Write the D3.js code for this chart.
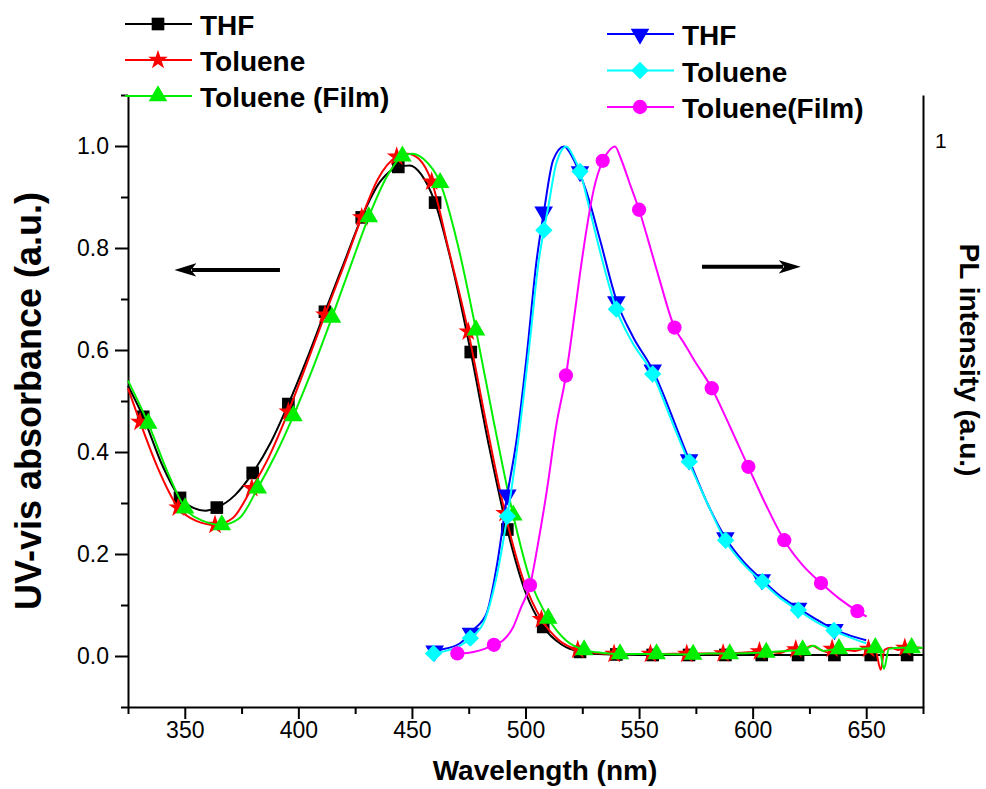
<!DOCTYPE html>
<html>
<head>
<meta charset="utf-8">
<style>
body { margin: 0; background: #fff; }
svg { display: block; font-family: "Liberation Sans", Arial, sans-serif; }
</style>
</head>
<body>
<svg width="986" height="789"></svg>
<script src="https://cdn.jsdelivr.net/npm/d3@7"></script>
<script>
// absorption, THF (black squares)
var absThfLine = [[325,0.53],[331.7,0.469],[340,0.375],[347.9,0.31],[354,0.29],[359,0.285],[364.1,0.291],[372,0.315],[379.9,0.359],[388,0.42],[395.6,0.494],[404,0.585],[411.7,0.675],[420,0.77],[427.9,0.86],[436,0.93],[444,0.959],[449,0.962],[454,0.945],[460.2,0.889],[468,0.76],[475.9,0.596],[484,0.41],[492,0.248],[500,0.125],[507.8,0.057],[516,0.022],[524,0.008],[532,0.004],[540,0.003],[560,0.002],[600,0.002],[640,0.002],[675,0.002]];
var absThfMarks = [[331.7,0.469],[347.9,0.31],[364.1,0.291],[379.9,0.359],[395.6,0.494],[411.7,0.675],[427.9,0.86],[444,0.959],[460.2,0.889],[475.9,0.596],[492,0.248],[507.8,0.057],[524,0.008],[540,0.003],[556,0.002],[572,0.002],[588,0.002],[604,0.002],[620,0.002],[636,0.002],[652,0.002],[668,0.002]];

// absorption, toluene (red stars)
var absTolLine = [[325,0.525],[330.3,0.459],[338,0.37],[347.1,0.291],[355,0.265],[363.3,0.257],[371,0.27],[379.5,0.329],[387,0.39],[395.6,0.479],[403,0.565],[411.7,0.669],[420,0.765],[427.9,0.86],[435,0.935],[443.3,0.979],[448,0.985],[453,0.975],[458.7,0.93],[466,0.8],[474.8,0.636],[483,0.45],[491,0.28],[499,0.15],[507,0.072],[515,0.03],[523,0.012],[531,0.006],[539,0.004],[557,0.004],[573,0.005],[589,0.005],[600,0.008],[605,0.01],[612,0.006],[618,0.016],[621,0.01],[626,0.02],[630,0.012],[634,0.006],[637,0.014],[641,0.012],[645,0.01],[650,0.015],[654,0.012],[656.4,-0.027],[658,0.012],[661,0.016],[664,0.012],[668,0.018],[675,0.015]];
var absTolMarks = [[330.3,0.459],[347.1,0.291],[363.3,0.257],[379.5,0.329],[395.6,0.479],[411.7,0.669],[427.9,0.86],[443.3,0.979],[458.7,0.93],[474.8,0.636],[491,0.28],[507,0.072],[523,0.012],[539,0.004],[555,0.004],[571,0.004],[587,0.005],[603,0.009],[619,0.013],[635,0.014],[651,0.014],[667,0.016]];

// absorption, toluene film (green triangles)
var absFilmLine = [[325,0.54],[333.9,0.456],[342,0.365],[350.1,0.29],[358,0.265],[366.3,0.257],[374,0.27],[382.1,0.329],[390,0.395],[397.8,0.471],[406,0.56],[414.8,0.664],[423,0.765],[431,0.861],[439,0.94],[445.8,0.98],[450,0.985],[455,0.975],[462.4,0.928],[470,0.81],[478.2,0.639],[486,0.46],[494.6,0.276],[502,0.15],[510,0.074],[518,0.03],[525.8,0.012],[534,0.006],[541.6,0.004],[557.7,0.004],[573.8,0.003],[580,0.005],[589.9,0.005],[606,0.007],[615,0.01],[622,0.012],[627,0.02],[631,0.01],[636,0.013],[645,0.014],[652,0.015],[656,0.01],[657.8,-0.025],[660,0.014],[665,0.016],[675,0.016]];
var absFilmMarks = [[333.9,0.456],[350.1,0.29],[366.3,0.257],[382.1,0.329],[397.8,0.471],[414.8,0.664],[431,0.861],[445.8,0.98],[462.4,0.928],[478.2,0.639],[494.6,0.276],[510,0.074],[525.8,0.012],[541.6,0.004],[557.7,0.004],[573.8,0.003],[589.9,0.004],[606,0.007],[622,0.012],[638,0.014],[654,0.016],[670,0.016]];

// PL, THF (blue down triangles)
var plThfLine = [[457,0.008],[462.4,0.012],[471.2,0.025],[477,0.051],[482.9,0.084],[487.3,0.175],[492,0.316],[496.1,0.424],[500.5,0.587],[504.9,0.776],[508.1,0.871],[512.2,0.973],[517,0.999],[521,0.975],[524,0.945],[527,0.908],[532.8,0.816],[540.2,0.695],[547.3,0.626],[556,0.561],[568,0.43],[572,0.385],[580,0.3],[588,0.232],[596,0.185],[604,0.15],[612,0.118],[620,0.094],[628,0.072],[636,0.052],[643,0.04],[650,0.031]];
var plThfMarks = [[460,0.01],[476,0.045],[492,0.316],[508,0.871],[524,0.95],[540,0.695],[556,0.561],[572,0.385],[588,0.232],[604,0.15],[620,0.094],[636,0.052]];

// PL, toluene (cyan diamonds)
var plTolLine = [[459,0.005],[465,0.01],[471,0.02],[475.7,0.035],[482,0.07],[487,0.15],[492,0.274],[497,0.43],[501.5,0.6],[506,0.78],[508.1,0.835],[510,0.88],[513.5,0.965],[518,0.999],[521,0.98],[524,0.95],[528,0.88],[533,0.79],[540,0.68],[547,0.615],[556,0.553],[564,0.465],[572,0.379],[580,0.3],[588,0.226],[596,0.18],[604,0.146],[612,0.114],[620,0.09],[628,0.067],[636,0.049],[643,0.036],[650,0.025]];
var plTolMarks = [[459.5,0.005],[475.7,0.035],[492,0.274],[508.1,0.835],[524,0.95],[540,0.68],[556,0.553],[572.1,0.381],[588.1,0.227],[604.3,0.146],[620.1,0.09],[635.8,0.05]];

// PL, toluene film (magenta circles)
var plFilmLine = [[467.5,0.004],[477,0.008],[482,0.014],[486.1,0.022],[490.2,0.031],[494.6,0.057],[498,0.095],[502,0.139],[505.5,0.22],[509.2,0.319],[513.7,0.456],[517.8,0.55],[521,0.65],[524,0.75],[527,0.84],[530,0.914],[534,0.971],[537,0.992],[539.4,0.999],[542,0.975],[546,0.925],[550,0.875],[555,0.8],[559.2,0.735],[565.6,0.644],[570,0.612],[574,0.582],[582,0.525],[590,0.45],[598.1,0.371],[606,0.295],[613.9,0.227],[622,0.178],[630.1,0.143],[638,0.113],[646.1,0.088],[650.2,0.077]];
var plFilmMarks = [[470,0.005],[486.1,0.022],[502,0.139],[517.8,0.55],[534,0.971],[550,0.875],[565.6,0.644],[582,0.525],[598.1,0.371],[613.9,0.227],[630.1,0.143],[646.1,0.088]];

var xMajor = [350, 400, 450, 500, 550, 600, 650],
    xMinor = [325, 375, 425, 475, 525, 575, 625, 675],
    yMajor = [0, 0.2, 0.4, 0.6, 0.8, 1.0],
    yMinor = [-0.1, 0.1, 0.3, 0.5, 0.7, 0.9, 1.1];

// arrows: [from wavelength, to wavelength, level]
var arrowLeft = [391.9, 345.7, 0.757],
    arrowRight = [577.7, 620.9, 0.763];

var absSeries = [
  {name: "THF", line: absThfLine, marks: absThfMarks, color: "#000000", symbol: d3.symbolSquare, size: 160, rotate: 0},
  {name: "Toluene", line: absTolLine, marks: absTolMarks, color: "#ff0000", symbol: d3.symbolStar, size: 120, rotate: 0},
  {name: "Toluene (Film)", line: absFilmLine, marks: absFilmMarks, color: "#00ee00", symbol: d3.symbolTriangle, size: 150, rotate: 0}
];
var plSeries = [
  {name: "THF", line: plThfLine, marks: plThfMarks, color: "#0000ff", symbol: d3.symbolTriangle, size: 150, rotate: 180},
  {name: "Toluene", line: plTolLine, marks: plTolMarks, color: "#00ffff", symbol: d3.symbolSquare, size: 150, rotate: 45},
  {name: "Toluene(Film)", line: plFilmLine, marks: plFilmMarks, color: "#ff00ff", symbol: d3.symbolCircle, size: 160, rotate: 0}
];

var svg = d3.select("svg"),
    margin = {top: 95, right: 63, bottom: 82, left: 128},
    width = +svg.attr("width") - margin.left - margin.right,
    height = +svg.attr("height") - margin.top - margin.bottom;

var g = svg.append("g")
    .attr("transform", "translate(" + margin.left + "," + margin.top + ")");

var x = d3.scaleLinear().domain([325, 675]).range([0, width]),
    y = d3.scaleLinear().domain([-0.1, 1.1]).range([height, 0]),
    yR = d3.scaleLinear().domain([-0.1, 1.1]).range([height, 0]);

var line = d3.line()
    .x(function(d) { return x(d[0]); })
    .y(function(d) { return y(d[1]); })
    .curve(d3.curveMonotoneX);

function styleAxis(sel) {
  sel.selectAll("path, line").attr("stroke", "#000").attr("stroke-width", 2);
  sel.selectAll("text").attr("fill", "#000").style("font-size", "23px")
      .style("font-family", "'Liberation Sans', Arial, sans-serif");
}

// minor ticks first
g.append("g")
    .attr("transform", "translate(0," + height + ")")
    .call(d3.axisBottom(x).tickValues(xMinor).tickSize(7).tickFormat(""))
    .call(styleAxis)
    .select(".domain").remove();

g.append("g")
    .call(d3.axisLeft(y).tickValues(yMinor).tickSize(7).tickFormat(""))
    .call(styleAxis)
    .select(".domain").remove();

g.append("g")
    .attr("transform", "translate(0," + height + ")")
    .call(d3.axisBottom(x).tickValues(xMajor).tickSize(12).tickSizeOuter(0).tickPadding(3).tickFormat(d3.format("d")))
    .call(styleAxis);

g.append("g")
    .call(d3.axisLeft(y).tickValues(yMajor).tickSize(13).tickSizeOuter(0).tickPadding(6).tickFormat(d3.format(".1f")))
    .call(styleAxis);

var right = g.append("g")
    .attr("transform", "translate(" + width + ",0)")
    .call(d3.axisRight(yR).tickValues([1]).tickSize(0).tickSizeOuter(0).tickPadding(12).tickFormat(d3.format("d")))
    .call(styleAxis);
right.selectAll("text").style("font-size", "21px").attr("dy", "0.05em");

// curves and markers
function drawSeries(s) {
  g.append("path")
      .datum(s.line)
      .attr("fill", "none")
      .attr("stroke", s.color)
      .attr("stroke-width", 2)
      .attr("d", line);

  g.selectAll(null)
      .data(s.marks)
    .enter().append("path")
      .attr("transform", function(d) { return "translate(" + x(d[0]) + "," + y(d[1]) + ") rotate(" + s.rotate + ")"; })
      .attr("d", d3.symbol().type(s.symbol).size(s.size))
      .attr("fill", s.color);
}

absSeries.forEach(drawSeries);
plSeries.forEach(drawSeries);

// arrows
svg.append("defs").append("marker")
    .attr("id", "head")
    .attr("viewBox", "0 0 10 10")
    .attr("preserveAspectRatio", "none")
    .attr("refX", 2)
    .attr("refY", 5)
    .attr("markerWidth", 5.5)
    .attr("markerHeight", 3.4)
    .attr("markerUnits", "strokeWidth")
    .attr("orient", "auto")
  .append("path")
    .attr("d", "M0,0 L10,5 L0,10 L2.5,5 Z")
    .attr("fill", "#000");

[arrowLeft, arrowRight].forEach(function(a) {
  var dir = a[1] > a[0] ? -1 : 1;
  g.append("line")
      .attr("x1", x(a[0]))
      .attr("y1", y(a[2]))
      .attr("x2", x(a[1]) + dir * 17)
      .attr("y2", y(a[2]))
      .attr("stroke", "#000")
      .attr("stroke-width", 4)
      .attr("marker-end", "url(#head)");
});

// legends
function legend(series, lx, ly, step) {
  var row = svg.selectAll(null)
      .data(series)
    .enter().append("g")
      .attr("transform", function(d, i) { return "translate(" + lx + "," + (ly + i * step) + ")"; });

  row.append("line")
      .attr("x1", 0)
      .attr("x2", 67)
      .attr("stroke", function(d) { return d.color; })
      .attr("stroke-width", 2);

  row.append("path")
      .attr("transform", function(d) { return "translate(33,0) rotate(" + d.rotate + ")"; })
      .attr("d", function(d) { return d3.symbol().type(d.symbol).size(d.size)(); })
      .attr("fill", function(d) { return d.color; });

  row.append("text")
      .attr("x", 75)
      .attr("y", 11)
      .style("font-size", "28px")
      .style("font-weight", "bold")
      .text(function(d) { return d.name; });
}

legend(absSeries, 125, 24, 36);
legend(plSeries, 607, 34, 36.5);

// axis titles
svg.append("text")
    .attr("x", 545)
    .attr("y", 780)
    .attr("text-anchor", "middle")
    .style("font-size", "28px")
    .style("font-weight", "bold")
    .text("Wavelength (nm)");

svg.append("text")
    .attr("transform", "translate(41," + (margin.top + height / 2) + ") rotate(-90)")
    .attr("text-anchor", "middle")
    .style("font-size", "36px")
    .style("font-weight", "bold")
    .text("UV-vis absorbance (a.u.)");

svg.append("text")
    .attr("transform", "translate(960,360) rotate(90)")
    .attr("text-anchor", "middle")
    .style("font-size", "28px")
    .style("font-weight", "bold")
    .text("PL intensity (a.u.)");
</script>
</body>
</html>
